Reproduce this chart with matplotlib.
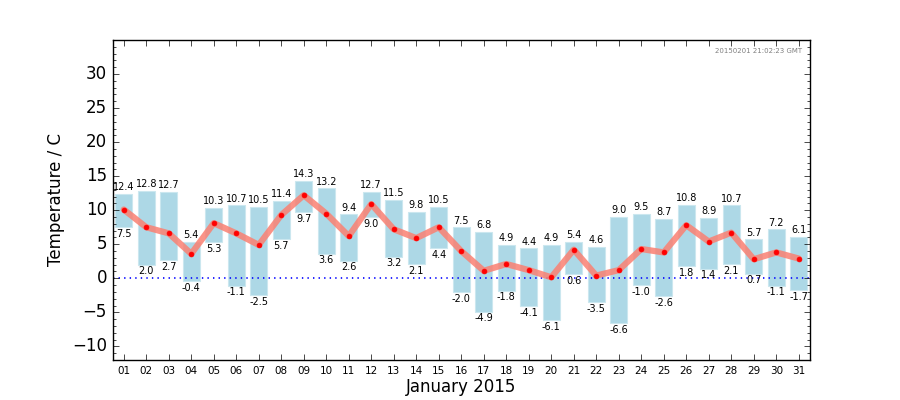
import matplotlib
matplotlib.use("Agg")
import matplotlib.pyplot as plt
from matplotlib.ticker import AutoMinorLocator, FixedLocator

days = list(range(1, 32))
day_labels = ["%02d" % d for d in days]
t_max = [12.4, 12.8, 12.7, 5.4, 10.3, 10.7, 10.5, 11.4, 14.3, 13.2, 9.4, 12.7, 11.5, 9.8, 10.5,
         7.5, 6.8, 4.9, 4.4, 4.9, 5.4, 4.6, 9.0, 9.5, 8.7, 10.8, 8.9, 10.7, 5.7, 7.2, 6.1]
t_min = [7.5, 2.0, 2.7, -0.4, 5.3, -1.1, -2.5, 5.7, 9.7, 3.6, 2.6, 9.0, 3.2, 2.1, 4.4,
         -2.0, -4.9, -1.8, -4.1, -6.1, 0.6, -3.5, -6.6, -1.0, -2.6, 1.8, 1.4, 2.1, 0.7, -1.1, -1.7]
t_mean = [10.1, 7.5, 6.6, 3.6, 8.1, 6.6, 4.9, 9.3, 12.2, 9.5, 6.2, 10.9, 7.2, 5.9, 7.5,
          4.0, 1.1, 2.1, 1.2, 0.15, 4.2, 0.4, 1.2, 4.3, 3.8, 7.8, 5.4, 6.7, 2.8, 3.8, 2.9]
y_ticks = [-10, -5, 0, 5, 10, 15, 20, 25, 30]
stamp = "20150201 21:02:23 GMT"

plt.style.use("classic")
fig = plt.figure(figsize=(9, 4), dpi=100, facecolor="white")
ax = fig.add_axes([0.125, 0.1, 0.775, 0.8])

heights = [mx - mn for mx, mn in zip(t_max, t_min)]
ax.bar(days, heights, bottom=t_min, width=0.75, align="center",
       color="lightblue", edgecolor="#cbe7ef", linewidth=0.8, zorder=1)
ax.axhline(0, color="blue", linestyle=":", linewidth=1.2, zorder=2)
ax.plot(days, t_mean, color="salmon", alpha=0.85, linewidth=4.5,
        solid_capstyle="round", solid_joinstyle="round", zorder=3)
ax.plot(days, t_mean, linestyle="none", marker="o", markersize=3.5,
        color="red", markeredgecolor="red", zorder=4)

for d, mx, mn in zip(days, t_max, t_min):
    ax.text(d, mx + 0.25, "%.1f" % mx, ha="center", va="bottom", fontsize=7)
    ax.text(d, mn - 0.25, "%.1f" % mn, ha="center", va="top", fontsize=7)

ax.set_xlim(0.5, 31.5)
ax.set_ylim(-12, 35)
ax.set_xticks(days)
ax.set_xticklabels(day_labels, fontsize=7.5)
ax.yaxis.set_major_locator(FixedLocator(y_ticks))
ax.yaxis.set_minor_locator(AutoMinorLocator(5))
ax.tick_params(axis="y", labelsize=12)
ax.tick_params(which="both", direction="in", top=True, right=True)
ax.set_xlabel("January 2015", fontsize=12, labelpad=2)
ax.set_ylabel("Temperature / C", fontsize=12)
ax.text(0.988, 0.975, stamp, transform=ax.transAxes, ha="right", va="top",
        fontsize=5, color="gray")

fig.savefig("out.png", dpi=100, facecolor="white")
